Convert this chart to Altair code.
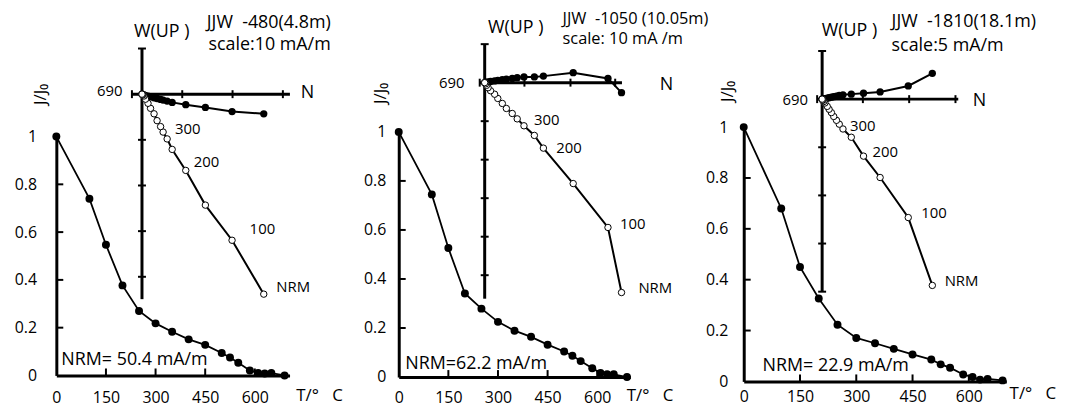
import altair as alt
import pandas as pd

FONT = "Open Sans"
OFF = 8  # page margin

# ---------------- data ----------------
steps = ["NRM", "100", "150", "200", "250", "300", "350", "400", "450",
         "500", "525", "550", "585", "610", "630", "650", "690"]
temps = [0, 100, 150, 200, 250, 300, 350, 400, 450, 500, 525, 550, 585, 610, 630, 650, 690]

# normalised intensity J/J0
j_480 = [1.0, 0.74, 0.547, 0.377, 0.27, 0.218, 0.183, 0.151, 0.128, 0.094, 0.075,
         0.053, 0.021, 0.010, 0.008, 0.010, 0.0]
j_1050 = [1.0, 0.745, 0.526, 0.341, 0.279, 0.225, 0.189, 0.164, 0.132, 0.104, 0.087,
          0.065, 0.036, 0.017, 0.011, 0.011, 0.0]
j_1810 = [1.0, 0.68, 0.45, 0.326, 0.223, 0.171, 0.150, 0.128, 0.106, 0.086, 0.067,
          0.054, 0.027, 0.017, 0.007, 0.010, 0.004]

# Zijderveld components (mA/m): N, W (horizontal plane, solid), Up (vertical plane, open)
n_480 = [24.2, 17.9, 12.6, 8.7, 6.0, 5.0, 4.2, 3.7, 3.0, 2.4, 1.7, 1.2, 0.7, 0.4, 0.2, 0.1, 0.0]
w_480 = [-4.3, -3.8, -2.9, -2.3, -1.8, -1.5, -1.3, -1.15, -0.95, -0.8, -0.6, -0.45, -0.3,
         -0.15, -0.08, -0.04, 0.0]
up_480 = [-43.8, -32.0, -24.3, -16.7, -12.1, -9.8, -8.3, -7.1, -5.8, -4.3, -3.1, -2.0, -1.1,
          -0.4, -0.15, -0.05, 0.0]

n_1050 = [30.3, 27.3, 19.6, 13.0, 11.0, 8.7, 7.2, 6.1, 4.8, 3.9, 2.9, 2.2, 1.3, 0.75, 0.4, 0.2, 0.0]
w_1050 = [-2.6, 1.1, 2.6, 1.7, 1.5, 1.5, 1.3, 1.1, 0.9, 0.8, 0.6, 0.45, 0.3, 0.2, 0.1, 0.05, 0.0]
up_1050 = [-54.5, -37.6, -26.2, -17.0, -13.7, -11.2, -9.4, -8.0, -6.7, -5.4, -4.1, -3.0, -2.1,
           -1.3, -0.7, -0.3, 0.0]

n_1810 = [11.9, 9.3, 6.26, 4.47, 3.15, 2.25, 1.85, 1.55, 1.25, 1.0, 0.75, 0.55, 0.3, 0.18,
          0.08, 0.05, 0.0]
w_1810 = [2.68, 1.37, 0.75, 0.62, 0.52, 0.45, 0.38, 0.32, 0.26, 0.2, 0.15, 0.1, 0.06, 0.04,
          0.02, 0.01, 0.0]
up_1810 = [-19.35, -12.3, -8.14, -5.92, -3.96, -3.1, -2.6, -2.2, -1.8, -1.4, -1.05, -0.75,
           -0.4, -0.25, -0.12, -0.08, 0.0]

sample_titles = ["JJW\u00a0\u00a0-480(4.8m)", "JJW\u00a0\u00a0-1050\u00a0(10.05m)",
                 "JJW\u00a0\u00a0-1810(18.1m)"]
scale_labels = ["scale:10 mA/m", "scale:\u00a010\u00a0mA\u00a0/m", "scale:5 mA/m"]
nrm_labels = ["NRM= 50.4 mA/m", "NRM=62.2 mA/m", "NRM= 22.9 mA/m"]
labelled_steps = ["300", "200", "100", "NRM"]

x_tick_labels = [0, 150, 300, 450, 600]
x_inner_ticks = [150, 300, 450, 600]
y_tick_labels = [0, 0.2, 0.4, 0.6, 0.8, 1]
y_inner_ticks = [0.2, 0.4, 0.6, 0.8]

# ---------------- layout (pixel geometry) ----------------
panels = [
    dict(j=j_480, n=n_480, w=w_480, up=up_480,
         x0=56.7, kx=0.3333, tend=705, y0=376.7, y1=136.0,
         ylabpad=20, xlabpad=14, ytitle=(-16, 85), xtitle=(290, 20.3), nrm=(5, -15.2),
         ox=143, oy=93.3, kh=5.07, kv=4.6, hx=(-2, 29.4), vy=(-44.9, 10.1),
         hticks=[-2, 8, 18, 28], vticks=[10, -10, -20, -30, -40],
         lab={"300": (8, -10), "200": (8, -8), "100": (17.7, -11.4), "NRM": (12.6, -6.7)},
         l690=(-19.7, -3), lN=(11, -1.5), lW=(-8, -16), lJJW=(65.3, -25.6), lsc=(67, -3),
         fJJW=18),
    dict(j=j_1050, n=n_1050, w=w_1050, up=up_1050,
         x0=401.7, kx=0.3333, tend=700, y0=378.3, y1=131.3,
         ylabpad=13, xlabpad=13, ytitle=(-18, 84), xtitle=(623, 18.7), nrm=(6.6, -13),
         ox=488.3, oy=81.7, kh=4.55, kv=3.88, hx=(-1.1, 30.4), vy=(-56.1, 10.05),
         hticks=[-1.1, 8.8, 19.0, 28.9], vticks=[10, -10, -20, -30, -40, -50],
         lab={"300": (10, -5.7), "200": (13, -0.4), "100": (12, -3.7), "NRM": (17, -5)},
         l690=(-20.3, 0), lN=(38, 2.5), lW=(3.4, -16), lJJW=(78.4, -25.5), lsc=(78.4, -4.5),
         fJJW=16.5),
    dict(j=j_1810, n=n_1810, w=w_1810, up=up_1810,
         x0=749.3, kx=0.378, tend=700, y0=382.7, y1=126.5,
         ylabpad=16, xlabpad=7, ytitle=(-16, 82), xtitle=(1008.7, 12.3), nrm=(19, -15),
         ox=828.3, oy=98.3, kh=9.33, kv=9.7, hx=(-0.54, 14.7), vy=(-20.0, 5.0),
         hticks=[-0.54, 4.4, 9.4, 14.4], vticks=[5, -5, -10, -15, -20],
         lab={"300": (7, -3.3), "200": (9, -4), "100": (13, -4.4), "NRM": (12.4, -4.3)},
         l690=(-14.3, 0.5), lN=(14.5, 2), lW=(-0.3, -20.5), lJJW=(70, -29), lsc=(70, -4.7),
         fJJW=18),
]

layers = []


def txt(df, xs, ys, text, dx, dy, size, align="left", xf="x", yf="y"):
    return alt.Chart(df).mark_text(
        text=text, align=align, baseline="middle", dx=dx, dy=dy, fontSize=size,
        font=FONT, color="black"
    ).encode(x=alt.X(f"{xf}:Q", scale=xs, axis=None), y=alt.Y(f"{yf}:Q", scale=ys, axis=None))


for k, p in enumerate(panels):
    # ---------- main demagnetisation curve ----------
    xs = alt.Scale(domain=[0, p["tend"]],
                   range=[p["x0"] - OFF, p["x0"] - OFF + p["tend"] * p["kx"]],
                   nice=False, zero=False)
    ys = alt.Scale(domain=[0, 1], range=[p["y0"] - OFF, p["y1"] - OFF], nice=False, zero=False)
    df = pd.DataFrame({"T": temps, "J": p["j"]})

    xaxis = alt.Axis(orient="bottom", offset=(p["y0"] - OFF) - 403, values=x_tick_labels,
                     ticks=False, tickSize=0, grid=False, domainWidth=3, domainColor="black",
                     labelFont=FONT, labelFontSize=16, labelColor="black",
                     labelPadding=p["xlabpad"], labelFlush=False, labelOverlap=False,
                     title="T/°\u00a0\u00a0\u00a0C", titleX=p["xtitle"][0], titleY=p["xtitle"][1],
                     titleAlign="left", titleBaseline="middle", titleAngle=0,
                     titleFont=FONT, titleFontSize=17, titleFontWeight="normal",
                     titleColor="black")
    yaxis = alt.Axis(orient="left", offset=-(p["x0"] - OFF), values=y_tick_labels, format="~g",
                     ticks=False, tickSize=0, grid=False, domainWidth=3, domainColor="black",
                     labelFont=FONT, labelFontSize=16, labelColor="black",
                     labelPadding=p["ylabpad"], labelFlush=False, labelOverlap=False,
                     title="J/J\u2080", titleX=p["ytitle"][0], titleY=p["ytitle"][1],
                     titleAngle=270, titleAlign="center", titleBaseline="middle",
                     titleFont=FONT, titleFontSize=17, titleFontWeight="normal",
                     titleColor="black")

    layers.append(alt.Chart(df).mark_line(color="black", strokeWidth=1.8).encode(
        x=alt.X("T:Q", scale=xs, axis=xaxis), y=alt.Y("J:Q", scale=ys, axis=yaxis)))
    layers.append(alt.Chart(df).mark_circle(color="black", size=64, opacity=1).encode(
        x=alt.X("T:Q", scale=xs, axis=None), y=alt.Y("J:Q", scale=ys, axis=None)))
    layers.append(alt.Chart(pd.DataFrame({"T": x_inner_ticks, "J": [0] * len(x_inner_ticks)}))
                  .mark_tick(orient="vertical", size=7, thickness=2, yOffset=-3.5,
                             color="black", opacity=1)
                  .encode(x=alt.X("T:Q", scale=xs, axis=None), y=alt.Y("J:Q", scale=ys, axis=None)))
    layers.append(alt.Chart(pd.DataFrame({"T": [0] * len(y_inner_ticks), "J": y_inner_ticks}))
                  .mark_tick(orient="horizontal", size=7, thickness=2, xOffset=3.5,
                             color="black", opacity=1)
                  .encode(x=alt.X("T:Q", scale=xs, axis=None), y=alt.Y("J:Q", scale=ys, axis=None)))
    layers.append(txt(pd.DataFrame({"T": [0], "J": [0]}), xs, ys, nrm_labels[k],
                      p["nrm"][0], p["nrm"][1], 18, xf="T", yf="J"))

    # ---------- Zijderveld inset ----------
    ox, oy = p["ox"] - OFF, p["oy"] - OFF
    xa, xb = p["hx"]
    ya, yb = p["vy"]
    ixs = alt.Scale(domain=[xa, xb], range=[ox + xa * p["kh"], ox + xb * p["kh"]],
                    nice=False, zero=False)
    iys = alt.Scale(domain=[ya, yb], range=[oy - ya * p["kv"], oy - yb * p["kv"]],
                    nice=False, zero=False)

    def X(f="x"):
        return alt.X(f"{f}:Q", scale=ixs, axis=None)

    def Y(f="y"):
        return alt.Y(f"{f}:Q", scale=iys, axis=None)

    layers.append(alt.Chart(pd.DataFrame({"x": [xa], "x2": [xb], "y": [0]}))
                  .mark_rule(color="black", strokeWidth=3)
                  .encode(x=X(), x2="x2:Q", y=Y()))
    layers.append(alt.Chart(pd.DataFrame({"x": [0], "y": [yb], "y2": [ya]}))
                  .mark_rule(color="black", strokeWidth=3)
                  .encode(x=X(), y=Y(), y2="y2:Q"))
    layers.append(alt.Chart(pd.DataFrame({"x": p["hticks"], "y": [0] * len(p["hticks"])}))
                  .mark_tick(orient="vertical", size=8, thickness=2, color="black", opacity=1)
                  .encode(x=X(), y=Y()))
    layers.append(alt.Chart(pd.DataFrame({"x": [0] * len(p["vticks"]), "y": p["vticks"]}))
                  .mark_tick(orient="horizontal", size=8, thickness=2, color="black", opacity=1)
                  .encode(x=X(), y=Y()))

    zdf = pd.DataFrame({"i": list(range(len(steps))), "step": steps,
                        "x": p["n"], "w": p["w"], "up": p["up"]})
    layers.append(alt.Chart(zdf).mark_line(color="black", strokeWidth=2)
                  .encode(x=X(), y=Y("w"), order="i:Q"))
    layers.append(alt.Chart(zdf).mark_line(color="black", strokeWidth=2)
                  .encode(x=X(), y=Y("up"), order="i:Q"))
    layers.append(alt.Chart(zdf).mark_circle(color="black", size=54, opacity=1)
                  .encode(x=X(), y=Y("w")))
    layers.append(alt.Chart(zdf).mark_circle(fill="white", stroke="black", strokeWidth=1,
                                             size=42, opacity=1, fillOpacity=1)
                  .encode(x=X(), y=Y("up")))

    for s in labelled_steps:
        idx = steps.index(s)
        dx, dy = p["lab"][s]
        layers.append(txt(pd.DataFrame({"x": [p["n"][idx]], "y": [p["up"][idx]]}), ixs, iys,
                          s, dx, dy, 15))
    origin = pd.DataFrame({"x": [0], "y": [0]})
    layers.append(txt(origin, ixs, iys, "690", p["l690"][0], p["l690"][1], 15, align="right"))
    layers.append(txt(pd.DataFrame({"x": [xb], "y": [0]}), ixs, iys, "N",
                      p["lN"][0], p["lN"][1], 18))
    top = pd.DataFrame({"x": [0], "y": [yb]})
    layers.append(txt(top, ixs, iys, "W(UP\u00a0)", p["lW"][0], p["lW"][1], 18))
    layers.append(txt(top, ixs, iys, sample_titles[k], p["lJJW"][0], p["lJJW"][1], p["fJJW"]))
    layers.append(txt(top, ixs, iys, scale_labels[k], p["lsc"][0], p["lsc"][1], p["fJJW"]))

chart = (alt.layer(*layers)
         .resolve_scale(x="independent", y="independent")
         .properties(width=1064, height=403, autosize=alt.AutoSizeParams(type="none"), padding=0)
         .configure_view(stroke=None))

chart.save("out.html", embed_options={"renderer": "svg", "actions": False})
